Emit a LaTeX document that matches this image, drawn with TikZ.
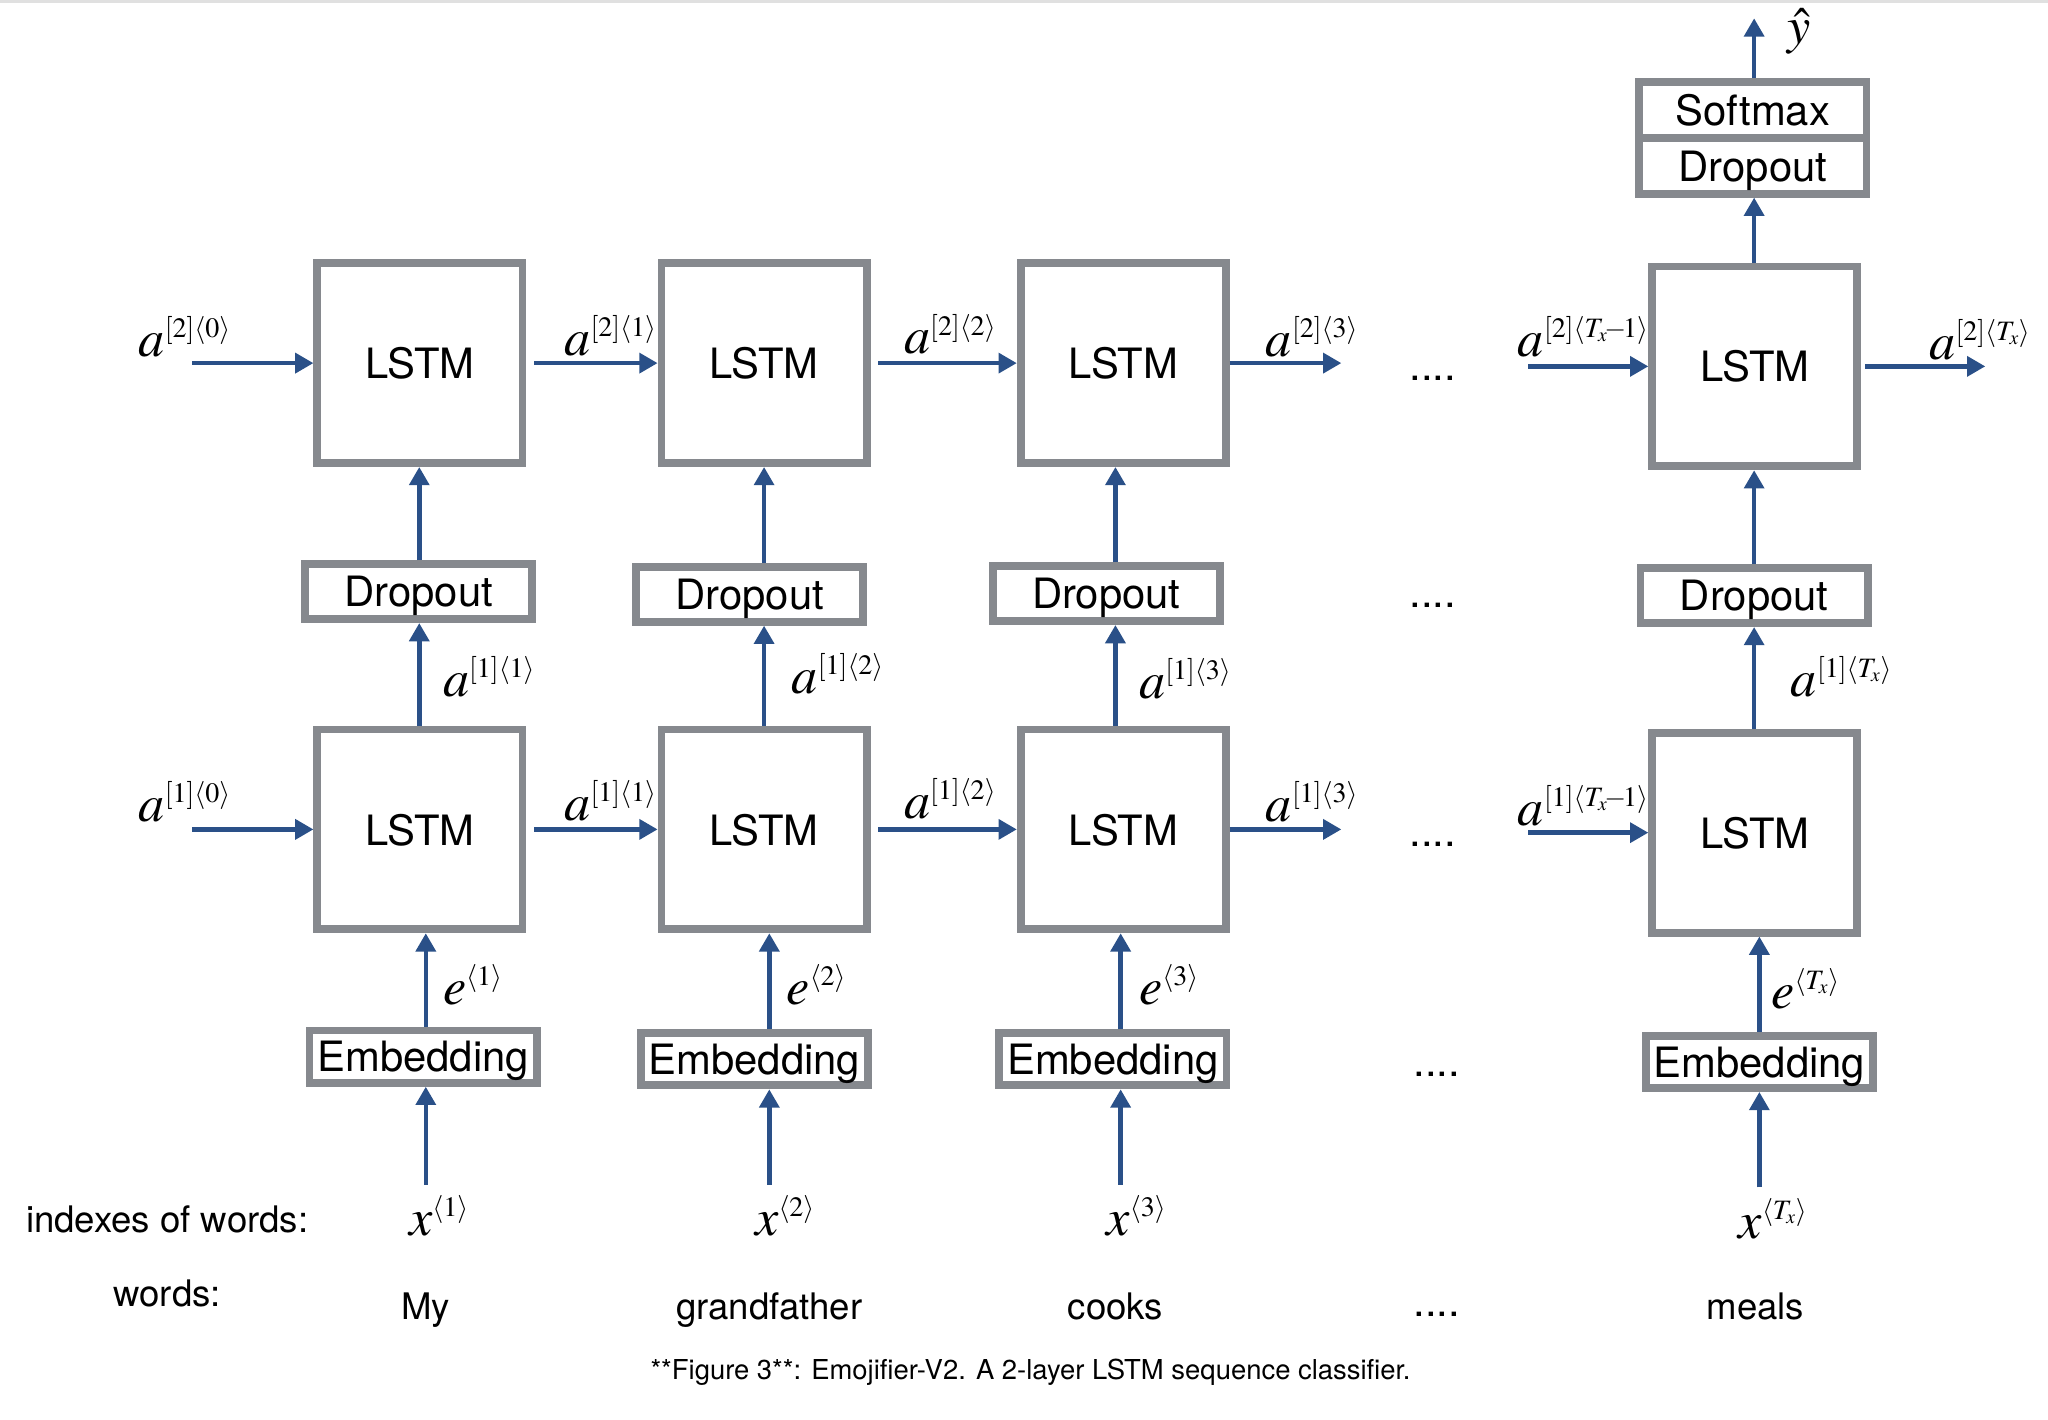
\documentclass[tikz,border=0pt]{standalone}
\usepackage{mathptmx}
\usepackage[no-math]{fontspec}
\setmainfont{TeX Gyre Heros}
\DeclareMathSizes{40}{40}{21.5}{15}
\usetikzlibrary{arrows.meta}
\definecolor{boxgray}{RGB}{134,137,142}
\definecolor{arrblue}{RGB}{42,80,136}
\newcommand{\tmo}{T_x\mkern-2mu{-}\mkern-2mu 1}
\begin{document}
\begin{tikzpicture}[x=1pt,y=-1pt,
 box/.style={draw=boxgray,line width=6pt,fill=white,inner sep=0pt,text depth=0pt,font=\fontsize{32}{38}\selectfont},
 lstm/.style={box,minimum width=157pt,minimum height=153pt},
 slab/.style={box,minimum width=174pt,minimum height=42pt},
 arr/.style={draw=arrblue,line width=3.5pt,-{Triangle[length=14pt,width=15pt]}},
 lab/.style={inner sep=0pt,anchor=base west,font=\fontsize{40}{46}\selectfont},
 txt/.style={inner sep=0pt,font=\fontsize{28}{34}\selectfont,anchor=base},
 dots/.style={inner sep=0pt,font=\fontsize{32}{38}\selectfont,anchor=base},
]
\useasboundingbox[fill=white] (0,0) rectangle (1568,1087);
\fill[black!12] (0,0) rectangle (1568,2.5);

% LSTM boxes
\node[lstm] (T1) at (321.5,278) {LSTM};
\node[lstm] (T2) at (585,278) {LSTM};
\node[lstm] (T3) at (860,278) {LSTM};
\node[lstm] (T4) at (1343.5,280.5) {LSTM};
\node[lstm] (B1) at (321.5,635) {LSTM};
\node[lstm] (B2) at (585,635) {LSTM};
\node[lstm] (B3) at (860,635) {LSTM};
\node[lstm] (B4) at (1343.5,637.5) {LSTM};
% Dropout boxes
\node[slab] (D1) at (320.5,453) {Dropout};
\node[slab] (D2) at (574,455) {Dropout};
\node[slab] (D3) at (847,454.5) {Dropout};
\node[slab] (D4) at (1343,456) {Dropout};
% Embedding boxes
\node[slab,minimum height=40pt] (E1) at (324,809) {Embedding};
\node[slab,minimum height=40pt] (E2) at (577.5,811) {Embedding};
\node[slab,minimum height=40pt] (E3) at (852,811) {Embedding};
\node[slab,minimum height=40pt] (E4) at (1347,813) {Embedding};
% Softmax / Dropout on top
\node[slab,minimum height=42.5pt] (TD) at (1342,127) {Dropout};
\node[slab,minimum height=42.5pt] (SM) at (1342,84) {Softmax};

% column coordinates
\coordinate (v1) at (321,0); \coordinate (v2) at (585,0);
\coordinate (v3) at (854,0); \coordinate (v4) at (1343,0);
\coordinate (w1) at (326,0); \coordinate (w2) at (589,0);
\coordinate (w3) at (858,0); \coordinate (w4) at (1347,0);
\coordinate (in2) at (147,278); \coordinate (in1) at (147,635);
\coordinate (o23) at (1027,278); \coordinate (o13) at (1027,635);
\coordinate (i24) at (1170,280.5); \coordinate (i14) at (1170,637.5);
\coordinate (o24) at (1520,280.5);
\coordinate (yh) at (1343,14);
\coordinate (s1) at (326,907); \coordinate (s2) at (589,907);
\coordinate (s3) at (858,907); \coordinate (s4) at (1347,909);

% horizontal arrows, layer 2
\draw[arr] (in2) -- (T1.west);
\draw[arr,shorten <=6pt] (T1.east) -- (T2.west);
\draw[arr,shorten <=6pt] (T2.east) -- (T3.west);
\draw[arr] (T3.east) -- (o23);
\draw[arr] (i24) -- (T4.west);
\draw[arr,shorten <=3pt] (T4.east) -- (o24);
% horizontal arrows, layer 1
\draw[arr] (in1) -- (B1.west);
\draw[arr,shorten <=6pt] (B1.east) -- (B2.west);
\draw[arr,shorten <=6pt] (B2.east) -- (B3.west);
\draw[arr] (B3.east) -- (o13);
\draw[arr] (i14) -- (B4.west);

% vertical arrows
\foreach \i in {1,2,3,4}{
  \draw[arr] (B\i.north -| v\i) -- (D\i.south -| v\i);
  \draw[arr] (D\i.north -| v\i) -- (T\i.south -| v\i);
  \draw[arr] (E\i.north -| w\i) -- (B\i.south -| w\i);
  \draw[arr] (s\i) -- (E\i.south -| w\i);
}
\draw[arr] (T4.north -| v4) -- (TD.south -| v4);
\draw[arr] (SM.north -| v4) -- (yh);

% math labels, layer 2 horizontal
\node[lab] (la20) at (106,273) {$a^{[2]\langle 0\rangle}$};
\node[lab] (la21) at (432,272) {$a^{[2]\langle 1\rangle}$};
\node[lab] (la22) at (692,271) {$a^{[2]\langle 2\rangle}$};
\node[lab] (la23) at (969,273) {$a^{[2]\langle 3\rangle}$};
\node[lab] (la2t1) at (1162,273) {$a^{[2]\langle\tmo\rangle}$};
\node[lab] (la2t) at (1477,275) {$a^{[2]\langle T_x\rangle}$};
% layer 1 horizontal
\node[lab] (la10) at (106,629) {$a^{[1]\langle 0\rangle}$};
\node[lab] (la11) at (432,628) {$a^{[1]\langle 1\rangle}$};
\node[lab] (la12) at (692,627) {$a^{[1]\langle 2\rangle}$};
\node[lab] (la13) at (969,629) {$a^{[1]\langle 3\rangle}$};
\node[lab] (la1t1) at (1162,632) {$a^{[1]\langle\tmo\rangle}$};
% vertical labels
\node[lab] (lv1) at (339,533) {$a^{[1]\langle 1\rangle}$};
\node[lab] (lv2) at (606,531) {$a^{[1]\langle 2\rangle}$};
\node[lab] (lv3) at (872,535) {$a^{[1]\langle 3\rangle}$};
\node[lab] (lv4) at (1371,533) {$a^{[1]\langle T_x\rangle}$};
\node[lab] (le1) at (339,769) {$e^{\langle 1\rangle}$};
\node[lab] (le2) at (602,769) {$e^{\langle 2\rangle}$};
\node[lab] (le3) at (872,769) {$e^{\langle 3\rangle}$};
\node[lab] (le4) at (1356,772) {$e^{\langle T_x\rangle}$};
\node[lab] (lx1) at (313,946) {$x^{\langle 1\rangle}$};
\node[lab] (lx2) at (578,946) {$x^{\langle 2\rangle}$};
\node[lab] (lx3) at (847,946) {$x^{\langle 3\rangle}$};
\node[lab] (lx4) at (1331,948) {$x^{\langle T_x\rangle}$};
\node[lab] (ly) at (1368,33) {$\hat{y}$};

% dots
\node[dots] (d1) at (1097,291) {....};
\node[dots] (d2) at (1097,465) {....};
\node[dots] (d3) at (1097,648) {....};
\node[dots] (d4) at (1100,824) {....};
\node[dots] (d5) at (1100,1008) {....};

% text
\node[txt] (idx) at (128,944) {indexes of words:};
\node[txt] (wl) at (128,1000) {words:};
\node[txt] (w1t) at (326,1010) {My};
\node[txt] (w2t) at (589,1010) {grandfather};
\node[txt] (w3t) at (854,1010) {cooks};
\node[txt] (w4t) at (1344,1010) {meals};
\node[inner sep=0pt,anchor=base,font=\fontsize{21}{25}\selectfont] (cap) at (789,1056) {**Figure 3**: Emojifier-V2. A 2-layer LSTM sequence classifier.};
\end{tikzpicture}
\end{document}
